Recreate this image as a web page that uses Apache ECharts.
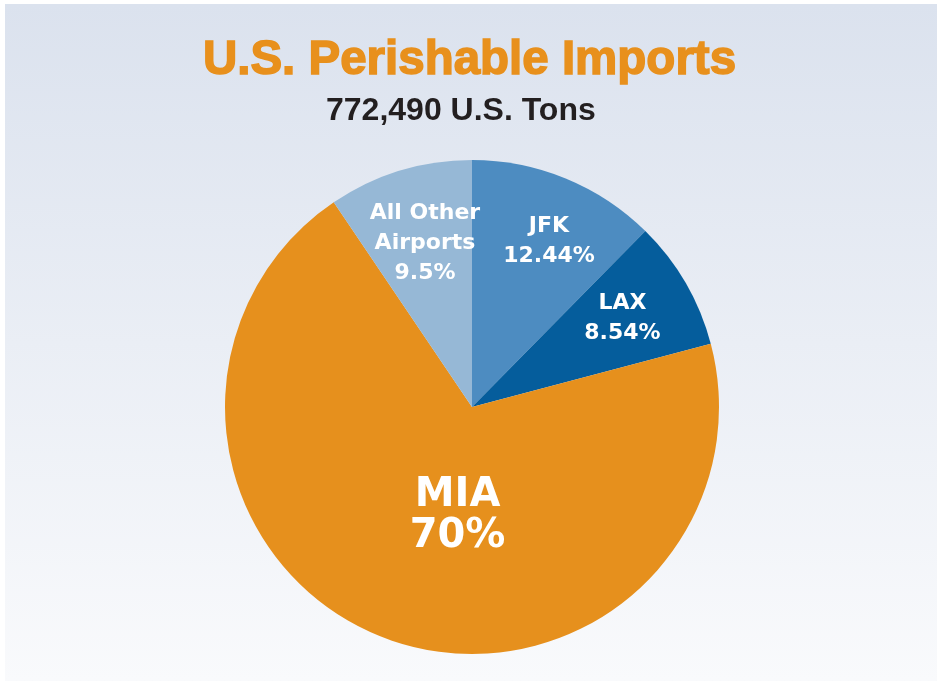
<!DOCTYPE html>
<html>
<head>
<meta charset="utf-8">
<script src="https://cdn.jsdelivr.net/npm/echarts@6/dist/echarts.min.js"></script>
<style>
  html, body { margin: 0; padding: 0; background: #ffffff; }
  #chart { width: 939px; height: 681px; }
</style>
</head>
<body>
<div id="chart"></div>
<script>
// slice names and shares (percent), clockwise from 12 o'clock
const airports = ['JFK', 'LAX', 'MIA', 'All Other\nAirports'];
const shares = [12.44, 8.54, 70, 9.5];
const shareLabels = ['12.44%', '8.54%', '70%', '9.5%'];
const sliceColors = ['#4d8cc1', '#055d9c', '#e6901d', '#96b8d6'];

// nudge inside labels to where the original put them
const labelNudge = [[29, -49], [41, -25], [30, -9], [-10, -43]];

const chart = echarts.init(document.getElementById('chart'));

const option = {
  animation: false,
  graphic: [
    {
      type: 'rect',
      z: -10,
      shape: { x: 5, y: 4, width: 932, height: 677 },
      style: {
        fill: new echarts.graphic.LinearGradient(0, 0, 0, 1, [
          { offset: 0, color: '#dbe2ee' },
          { offset: 1, color: '#f9fafc' }
        ])
      }
    }
  ],
  title: [
    {
      text: 'U.S. Perishable Imports',
      left: 'center',
      top: 32,
      textStyle: {
        fontFamily: 'Liberation Sans',
        fontWeight: 'bold',
        fontSize: 47.5,
        color: '#e8901c',
        textBorderColor: '#e8901c',
        textBorderWidth: 1.5
      }
    },
    {
      text: '772,490 U.S. Tons',
      left: 321,
      top: 90,
      textStyle: {
        fontFamily: 'Liberation Sans',
        fontWeight: 'bold',
        fontSize: 32,
        color: '#231f20'
      }
    }
  ],
  series: [
    {
      type: 'pie',
      center: [472, 407],
      radius: 247,
      startAngle: 90,
      clockwise: true,
      silent: true,
      itemStyle: { borderWidth: 0 },
      data: airports.map((name, i) => ({
        name: name,
        value: shares[i],
        itemStyle: { color: sliceColors[i] },
        label: i === 2 ? { fontSize: 40, lineHeight: 41 } : {}
      })),
      label: {
        show: true,
        position: 'inside',
        color: '#ffffff',
        fontFamily: 'DejaVu Sans',
        fontWeight: 'bold',
        fontSize: 22,
        lineHeight: 30,
        align: 'center',
        formatter: (p) => p.name + '\n' + shareLabels[p.dataIndex]
      },
      labelLayout: (p) => ({
        dx: labelNudge[p.dataIndex][0],
        dy: labelNudge[p.dataIndex][1]
      }),
      labelLine: { show: false }
    }
  ]
};

chart.setOption(option);
</script>
</body>
</html>
